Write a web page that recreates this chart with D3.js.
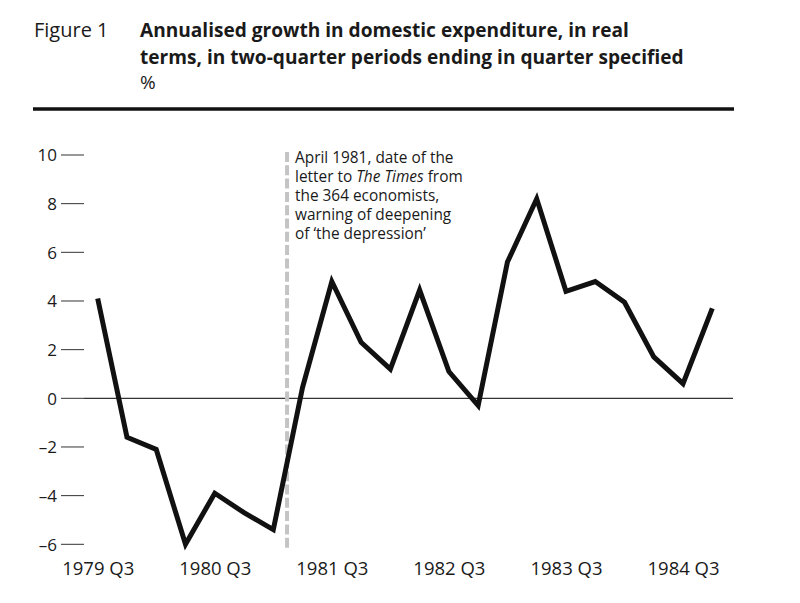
<!DOCTYPE html>
<html><head><meta charset="utf-8">
<script src="https://cdn.jsdelivr.net/npm/d3@7"></script>
<style>
body{margin:0;background:#fff;}
text{font-family:"Open Sans","Noto Sans",sans-serif;fill:#1a1a1a;}
</style></head>
<body><svg id="c" width="800" height="603"></svg>
<script>
const quarters = ["1979 Q3","1979 Q4","1980 Q1","1980 Q2","1980 Q3","1980 Q4","1981 Q1","1981 Q2","1981 Q3","1981 Q4","1982 Q1","1982 Q2","1982 Q3","1982 Q4","1983 Q1","1983 Q2","1983 Q3","1983 Q4","1984 Q1","1984 Q2","1984 Q3","1984 Q4"];
const growth = [4.1,-1.6,-2.1,-6.0,-3.9,-4.7,-5.4,0.45,4.8,2.3,1.2,4.45,1.1,-0.3,5.6,8.2,4.4,4.8,3.95,1.7,0.6,3.7];
const xTickLabels = ["1979 Q3","1980 Q3","1981 Q3","1982 Q3","1983 Q3","1984 Q3"];
const yTicks = [10,8,6,4,2,0,-2,-4,-6];
const annotationPos = 6.47; // April 1981, in quarters after 1979 Q3
const annotationLines = [["April 1981, date of the"],["letter to ",["The Times"]," from"],["the 364 economists,"],["warning of deepening"],["of \u2018the depression\u2019"]];
const titleLines = ["Annualised growth in domestic expenditure, in real","terms, in two-quarter periods ending in quarter specified"];

const svg = d3.select("#c");
const x = d3.scaleLinear().domain([0, quarters.length-1]).range([97.7, 712.3]);
const y = d3.scaleLinear().domain([-6,10]).range([544.3,155]);

// header
svg.append("text").attr("x",34).attr("y",37).style("font-size","20px").text("Figure 1");
svg.selectAll("text.title").data(titleLines).join("text").attr("class","title")
  .attr("x",140).attr("y",(d,i)=>37+i*26.5).style("font-size","19.1px").style("font-weight","bold").text(d=>d);
svg.append("text").attr("x",140).attr("y",89).style("font-size","19px").text("%");
svg.append("line").attr("x1",33).attr("x2",734).attr("y1",109).attr("y2",109).attr("stroke","#111").attr("stroke-width",3.5);

// y axis ticks
const yAxis = d3.axisLeft(y).tickValues(yTicks).tickSize(0).tickPadding(0)
  .tickFormat(d=> d<0 ? "\u2013"+Math.abs(d) : String(d));
const ya = svg.append("g").attr("transform","translate(57,0)").call(yAxis);
ya.attr("font-size",null).attr("font-family",null);
ya.select(".domain").remove();
ya.selectAll("text").style("font-size","17px").attr("fill","#1a1a1a").attr("dy","0.35em");
svg.selectAll("line.ytick").data(yTicks).join("line").attr("class","ytick")
  .attr("x1",61).attr("x2",84).attr("y1",d=>y(d)).attr("y2",d=>y(d)).attr("stroke","#333").attr("stroke-width",1);

// x axis labels
const xa = d3.axisBottom(x).tickValues(xTickLabels.map(l=>quarters.indexOf(l))).tickSize(0).tickPadding(0)
  .tickFormat(i=>quarters[i]);
const xg = svg.append("g").attr("transform","translate(0,562)").call(xa);
xg.attr("font-size",null).attr("font-family",null);
xg.select(".domain").remove();
xg.selectAll("text").style("font-size","18.5px").attr("fill","#1a1a1a").attr("dy","0.71em");

// zero line
svg.append("line").attr("x1",84).attr("x2",733).attr("y1",y(0)).attr("y2",y(0)).attr("stroke","#333").attr("stroke-width",1.3);

// dashed annotation line
svg.append("line").attr("x1",x(annotationPos)).attr("x2",x(annotationPos)).attr("y1",152).attr("y2",549)
  .attr("stroke","#c4c4c4").attr("stroke-width",4).attr("stroke-dasharray","10,3.3");

annotationLines.forEach((parts,i)=>{
  const t = svg.append("text").attr("x",295).attr("y",163+i*19).style("font-size","15.4px");
  parts.forEach(p=>{
    if(Array.isArray(p)) t.append("tspan").style("font-style","italic").text(p[0]);
    else t.append("tspan").text(p);
  });
});

// data line
svg.append("path").datum(growth)
  .attr("d", d3.line().x((d,i)=>x(i)).y(d=>y(d)))
  .attr("fill","none").attr("stroke","#111").attr("stroke-width",5).attr("stroke-linejoin","miter");
</script></body></html>
